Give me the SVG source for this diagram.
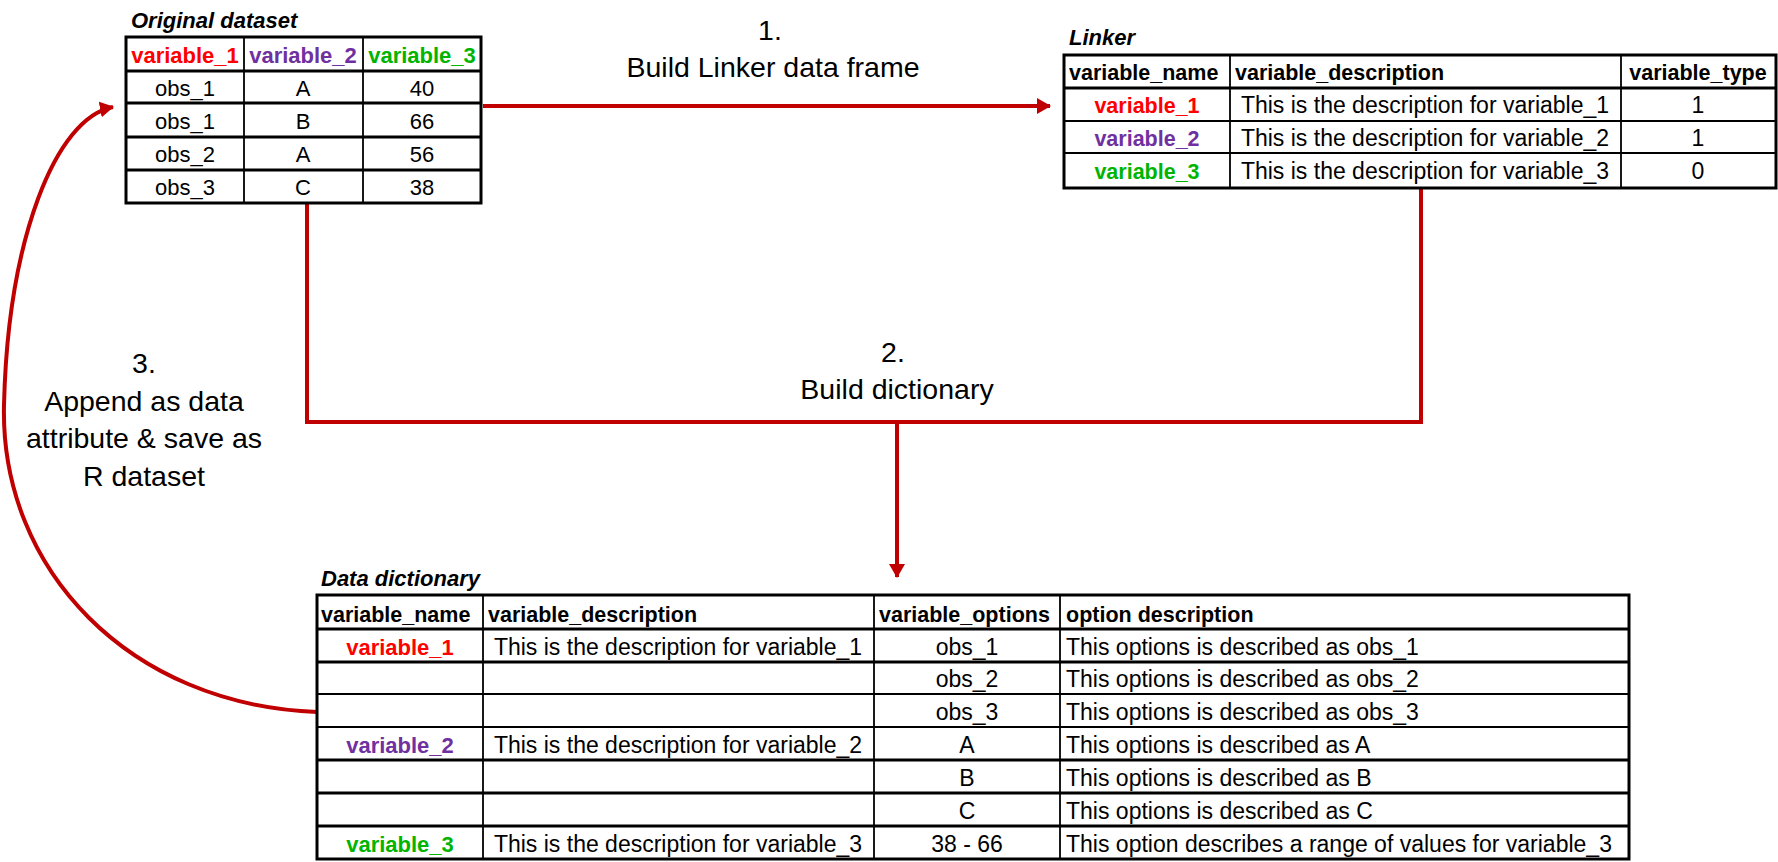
<svg xmlns="http://www.w3.org/2000/svg" width="1778" height="862" viewBox="0 0 1778 862">
<style>
text{font-family:"Liberation Sans",Arial,sans-serif;fill:#000}
.title{font-size:22px;font-weight:bold;font-style:italic}
.hd{font-size:21.5px;font-weight:bold}
.hd22{font-size:22px;font-weight:bold}
.cell{font-size:23px}
.cell22{font-size:22px}
.c{text-anchor:middle}
.lbl{font-size:28.5px;text-anchor:middle}
.outer{fill:#fff;stroke:#000;stroke-width:3}
.thick{stroke:#000;stroke-width:3}
.thin{stroke:#000;stroke-width:1.8}
.red{fill:#FF0000}
.purple{fill:#7030A0}
.green{fill:#00B400}
.conn{fill:none;stroke:#C00000;stroke-width:4}
</style>
<defs>
<marker id="arrow" markerUnits="userSpaceOnUse" markerWidth="14" markerHeight="16" refX="13" refY="8" orient="auto">
<path d="M0,0 L14,8 L0,16 Z" fill="#C00000"/>
</marker>
</defs>
<rect width="1778" height="862" fill="#fff"/>

<g id="connectors">
<path class="conn" d="M483,106 H1050" marker-end="url(#arrow)"/>
<path class="conn" d="M307,203 V422 H1421 V188"/>
<path class="conn" d="M897,422 V577" marker-end="url(#arrow)"/>
<path class="conn" d="M317,712 C130,705 0,570 4,405 C8,240 55,118 113,107" marker-end="url(#arrow)"/>
</g>

<g id="labels">
<text class="lbl" x="770" y="40">1.</text>
<text class="lbl" x="773" y="77">Build Linker data frame</text>
<text class="lbl" x="893" y="362">2.</text>
<text class="lbl" x="897" y="399">Build dictionary</text>
<text class="lbl" x="144" y="373">3.</text>
<text class="lbl" x="144" y="411">Append as data</text>
<text class="lbl" x="144" y="448">attribute &amp; save as</text>
<text class="lbl" x="144" y="486">R dataset</text>
</g>

<g id="original-dataset">
<text class="title" x="131" y="28">Original dataset</text>
<rect class="outer" x="126" y="37" width="355" height="166"/>
<line class="thin" x1="244" y1="37" x2="244" y2="203"/>
<line class="thin" x1="363" y1="37" x2="363" y2="203"/>
<line class="thick" x1="126" y1="71" x2="481" y2="71"/>
<line class="thick" x1="126" y1="103" x2="481" y2="103"/>
<line class="thick" x1="126" y1="137" x2="481" y2="137"/>
<line class="thick" x1="126" y1="170" x2="481" y2="170"/>
<text class="hd22 c red" x="185" y="63">variable_1</text>
<text class="hd22 c purple" x="303" y="63">variable_2</text>
<text class="hd22 c green" x="422" y="63">variable_3</text>
<text class="cell22 c" x="185" y="96">obs_1</text>
<text class="cell22 c" x="303" y="96">A</text>
<text class="cell22 c" x="422" y="96">40</text>
<text class="cell22 c" x="185" y="129">obs_1</text>
<text class="cell22 c" x="303" y="129">B</text>
<text class="cell22 c" x="422" y="129">66</text>
<text class="cell22 c" x="185" y="162">obs_2</text>
<text class="cell22 c" x="303" y="162">A</text>
<text class="cell22 c" x="422" y="162">56</text>
<text class="cell22 c" x="185" y="195">obs_3</text>
<text class="cell22 c" x="303" y="195">C</text>
<text class="cell22 c" x="422" y="195">38</text>
</g>

<g id="linker">
<text class="title" x="1069" y="45">Linker</text>
<rect class="outer" x="1064" y="55" width="712" height="133"/>
<line class="thin" x1="1230" y1="55" x2="1230" y2="188"/>
<line class="thin" x1="1621" y1="55" x2="1621" y2="188"/>
<line class="thick" x1="1064" y1="88" x2="1776" y2="88"/>
<line class="thin" x1="1064" y1="121" x2="1776" y2="121"/>
<line class="thin" x1="1064" y1="153" x2="1776" y2="153"/>
<text class="hd" x="1069" y="80">variable_name</text>
<text class="hd" x="1235" y="80">variable_description</text>
<text class="hd c" x="1698" y="80">variable_type</text>
<text class="hd c red" x="1147" y="113">variable_1</text>
<text class="cell c" x="1425" y="113">This is the description for variable_1</text>
<text class="cell c" x="1698" y="113">1</text>
<text class="hd c purple" x="1147" y="146">variable_2</text>
<text class="cell c" x="1425" y="146">This is the description for variable_2</text>
<text class="cell c" x="1698" y="146">1</text>
<text class="hd c green" x="1147" y="179">variable_3</text>
<text class="cell c" x="1425" y="179">This is the description for variable_3</text>
<text class="cell c" x="1698" y="179">0</text>
</g>

<g id="data-dictionary">
<text class="title" x="321" y="586">Data dictionary</text>
<rect class="outer" x="317" y="595" width="1312" height="264"/>
<line class="thin" x1="483" y1="595" x2="483" y2="859"/>
<line class="thin" x1="874" y1="595" x2="874" y2="859"/>
<line class="thin" x1="1060" y1="595" x2="1060" y2="859"/>
<line class="thick" x1="317" y1="629" x2="1629" y2="629"/>
<line class="thick" x1="317" y1="662" x2="1629" y2="662"/>
<line class="thin" x1="317" y1="694" x2="1629" y2="694"/>
<line class="thin" x1="317" y1="727" x2="1629" y2="727"/>
<line class="thick" x1="317" y1="760" x2="1629" y2="760"/>
<line class="thick" x1="317" y1="793" x2="1629" y2="793"/>
<line class="thick" x1="317" y1="826" x2="1629" y2="826"/>
<text class="hd" x="321" y="622">variable_name</text>
<text class="hd" x="488" y="622">variable_description</text>
<text class="hd" x="879" y="622">variable_options</text>
<text class="hd" x="1066" y="622">option description</text>
<text class="hd22 c red" x="400" y="655">variable_1</text>
<text class="cell c" x="678" y="655">This is the description for variable_1</text>
<text class="cell c" x="967" y="655">obs_1</text>
<text class="cell" x="1066" y="655">This options is described as obs_1</text>
<text class="cell c" x="967" y="687">obs_2</text>
<text class="cell" x="1066" y="687">This options is described as obs_2</text>
<text class="cell c" x="967" y="720">obs_3</text>
<text class="cell" x="1066" y="720">This options is described as obs_3</text>
<text class="hd22 c purple" x="400" y="753">variable_2</text>
<text class="cell c" x="678" y="753">This is the description for variable_2</text>
<text class="cell c" x="967" y="753">A</text>
<text class="cell" x="1066" y="753">This options is described as A</text>
<text class="cell c" x="967" y="786">B</text>
<text class="cell" x="1066" y="786">This options is described as B</text>
<text class="cell c" x="967" y="819">C</text>
<text class="cell" x="1066" y="819">This options is described as C</text>
<text class="hd22 c green" x="400" y="852">variable_3</text>
<text class="cell c" x="678" y="852">This is the description for variable_3</text>
<text class="cell c" x="967" y="852">38 - 66</text>
<text class="cell" x="1066" y="852">This option describes a range of values for variable_3</text>
</g>
</svg>
